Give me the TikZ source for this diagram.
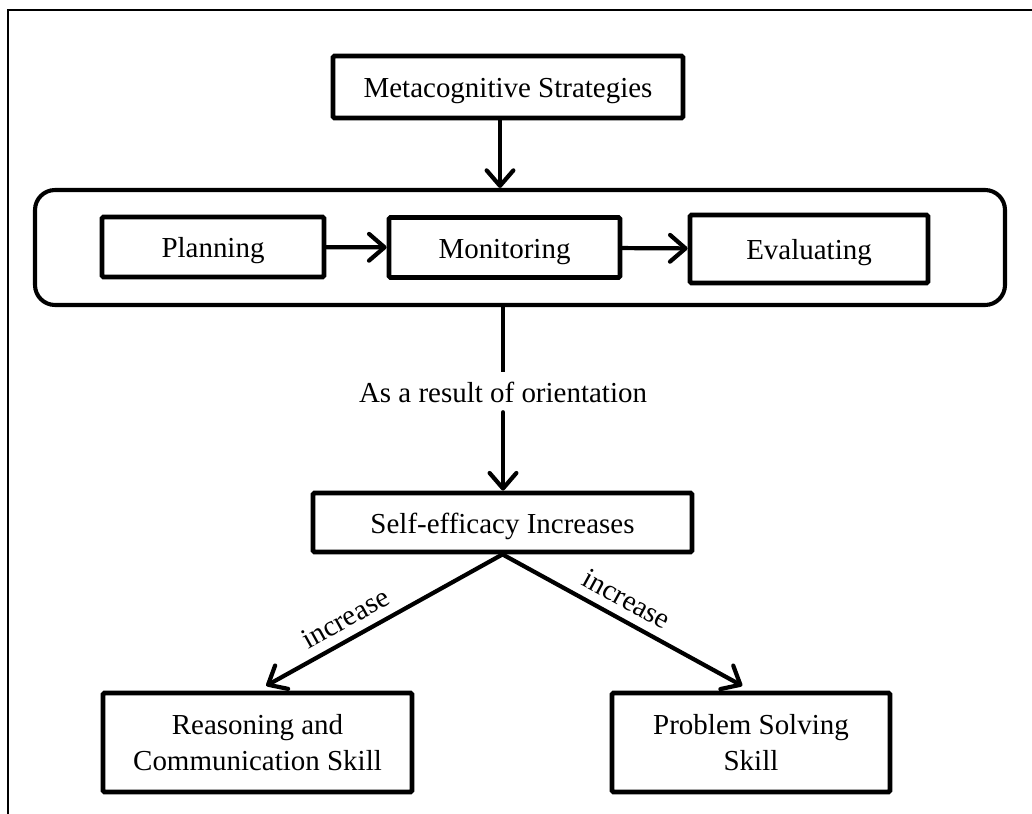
\documentclass[tikz,border=0pt]{standalone}
\usepackage{fontspec}
\setmainfont{Liberation Serif}
\usetikzlibrary{arrows.meta,positioning}
\tikzset{basic/.style={draw,line width=3.4pt,rounded corners=1pt,
                       align=center,inner sep=0pt,
                       font=\fontsize{20.6}{26}\selectfont}}
\tikzset{oneline/.style={basic,text height=15.4pt,text depth=0pt}}
\tikzset{stage/.style={oneline,minimum height=60*0.025cm}}
\tikzset{flow/.style={line width=3pt,line cap=round,
                      -{Straight Barb[length=11pt,width=19pt,line cap=round,round]}}}

\begin{document}
\begin{tikzpicture}[x=0.025cm,y=-0.025cm]
    \useasboundingbox (0,0) rectangle (1032,814);
    % frame (cut off right and bottom)
    \draw[line width=1.4pt] (8,814) -- (8,10) -- (1032,10);

    \node[oneline,minimum width=350*0.025cm,minimum height=62*0.025cm] (meta) at (508,87) {Metacognitive Strategies};

    \node[draw,line width=2.9pt,rounded corners=0.5cm,minimum width=970*0.025cm,
          minimum height=115*0.025cm] (phase) at (520,247.5) {};
    \node[stage,minimum width=222*0.025cm] (plan) at (213,247) {Planning};
    \node[stage,minimum width=231*0.025cm] (mon) at (504.5,247.5) {Monitoring};
    \node[stage,minimum width=238*0.025cm,minimum height=68*0.025cm] (eval) at (809,249) {Evaluating};

    \node[font=\fontsize{20.6}{26}\selectfont,inner sep=0pt,minimum height=40*0.025cm] (result) at (503,392) {As a result of orientation};

    \node[oneline,minimum width=379*0.025cm,minimum height=59*0.025cm] (self) at (502.5,522.5) {Self-efficacy Increases};

    \node[basic,minimum width=309*0.025cm,minimum height=99*0.025cm] (reason) at (257.5,742.5) {Reasoning and\\Communication Skill};
    \node[basic,minimum width=278*0.025cm,minimum height=99*0.025cm] (prob) at (751,742.5) {Problem Solving\\Skill};

    \draw[flow] (meta.south) ++(-8,0) coordinate (m) -- (m |- phase.north);
    \draw[flow] (plan) -- (mon);
    \draw[flow] (mon) -- (eval);
    \draw[line width=3pt] (phase.south -| result.north) -- (result.north);
    \draw[flow] (result.south) -- (self.north -| result.south);
    \draw[flow,shorten >=10*0.025cm] (self.south) -- (reason.north)
        node[sloped,above=3pt,pos=0.6,font=\fontsize{20.6}{26}\selectfont] {increase};
    \draw[flow,shorten >=10*0.025cm] (self.south) -- (prob.north)
        node[sloped,above=3pt,pos=0.46,font=\fontsize{20.6}{26}\selectfont] {increase};
\end{tikzpicture}
\end{document}
